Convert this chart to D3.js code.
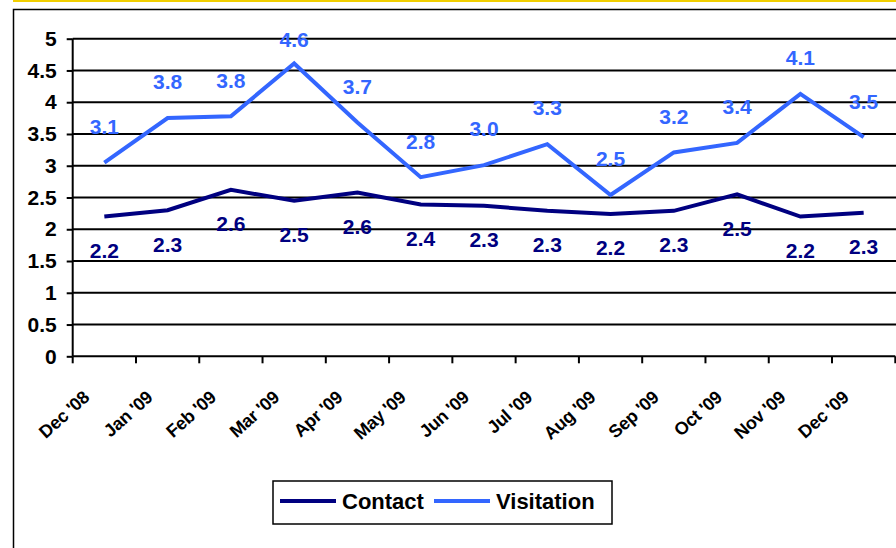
<!DOCTYPE html>
<html><head><meta charset="utf-8">
<script src="https://cdn.jsdelivr.net/npm/d3@7"></script>
<style>
html,body{margin:0;padding:0;background:#fff;}
svg{display:block;font-family:"Liberation Sans",Arial,sans-serif;font-weight:bold;}
</style></head>
<body>
<svg id="chart" width="896" height="548"></svg>
<script>
const categories = ["Dec '08","Jan '09","Feb '09","Mar '09","Apr '09","May '09","Jun '09","Jul '09","Aug '09","Sep '09","Oct '09","Nov '09","Dec '09"];
const contact = [2.20,2.30,2.62,2.45,2.58,2.39,2.37,2.29,2.24,2.29,2.55,2.20,2.26];
const visitation = [3.05,3.75,3.78,4.61,3.68,2.82,3.01,3.34,2.54,3.21,3.36,4.13,3.45];
const contactLabels = ["2.2","2.3","2.6","2.5","2.6","2.4","2.3","2.3","2.2","2.3","2.5","2.2","2.3"];
const visitationLabels = ["3.1","3.8","3.8","4.6","3.7","2.8","3.0","3.3","2.5","3.2","3.4","4.1","3.5"];
const yTicks = [0,0.5,1,1.5,2,2.5,3,3.5,4,4.5,5];
const yTickLabels = ["0","0.5","1","1.5","2","2.5","3","3.5","4","4.5","5"];
const seriesNames = ["Contact","Visitation"];
const seriesColors = ["#000080","#3366ff"];

const svg = d3.select("#chart");

// top yellow strip and chart border
svg.append("rect").attr("x",13).attr("y",0).attr("width",883).attr("height",2).attr("fill","#f2cf00");
svg.append("path").attr("d","M13.5,548 V9.5 H896").attr("fill","none").attr("stroke","#000").attr("stroke-width",1.5);

const x = d3.scaleBand().domain(categories).range([72.7,895.3]).padding(0);
const y = d3.scaleLinear().domain([0,5]).range([356.3,38.7]);
const cx = d => x(d) + x.bandwidth()/2;

// gridlines
svg.append("g").selectAll("line").data(yTicks.filter(v=>v>0)).join("line")
  .attr("x1",x.range()[0]).attr("x2",896).attr("y1",d=>y(d)).attr("y2",d=>y(d))
  .attr("stroke","#000").attr("stroke-width",2);

// y axis
const yAxis = d3.axisLeft(y).tickValues(yTicks).tickFormat((d,i)=>yTickLabels[i]).tickSize(6).tickPadding(10);
const gy = svg.append("g").attr("transform",`translate(${x.range()[0]},0)`).call(yAxis);
gy.select(".domain").attr("stroke","#000").attr("stroke-width",2).attr("d",`M0,${y(0)}V${y(5)}`);
gy.selectAll(".tick line").attr("stroke","#000").attr("stroke-width",2);
gy.selectAll(".tick text").attr("font-size",21).attr("font-weight","bold").attr("fill","#000")
  .attr("font-family","Liberation Sans, Arial, sans-serif");

// x axis: ticks at category boundaries
const gx = svg.append("g");
gx.append("line").attr("x1",x.range()[0]).attr("x2",x.range()[1]).attr("y1",y(0)).attr("y2",y(0))
  .attr("stroke","#000").attr("stroke-width",2);
const bounds = categories.map(c=>x(c)).concat([x.range()[1]]);
gx.selectAll("line.tk").data(bounds).join("line").attr("class","tk")
  .attr("x1",d=>d).attr("x2",d=>d).attr("y1",y(0)).attr("y2",y(0)+7)
  .attr("stroke","#000").attr("stroke-width",2);
gx.selectAll("text").data(categories).join("text")
  .attr("transform",d=>`translate(${cx(d)-18},${y(0)+38}) rotate(-42)`)
  .attr("text-anchor","end").attr("dy","0.35em")
  .attr("font-size",18).attr("letter-spacing","-0.3").attr("fill","#000").text(d=>d);

// lines
const line = d3.line().x((d,i)=>cx(categories[i])).y(d=>y(d));
[contact,visitation].forEach((s,k)=>{
  svg.append("path").datum(s).attr("d",line).attr("fill","none")
    .attr("stroke",seriesColors[k]).attr("stroke-width",4).attr("stroke-linejoin","miter");
});

// data labels
svg.append("g").selectAll("text").data(contact).join("text")
  .attr("x",(d,i)=>cx(categories[i])).attr("y",d=>y(d)+34).attr("dy","0.35em")
  .attr("text-anchor","middle").attr("font-size",21).attr("fill",seriesColors[0])
  .text((d,i)=>contactLabels[i]);
svg.append("g").selectAll("text").data(visitation).join("text")
  .attr("x",(d,i)=>cx(categories[i])).attr("y",d=>Math.max(y(d)-36,40)).attr("dy","0.35em")
  .attr("text-anchor","middle").attr("font-size",21).attr("fill",seriesColors[1])
  .text((d,i)=>visitationLabels[i]);

// legend
const lg = svg.append("g");
lg.append("rect").attr("x",273).attr("y",481).attr("width",339).attr("height",43)
  .attr("fill","#fff").attr("stroke","#000").attr("stroke-width",1.5);
const legX = [280,434];
seriesNames.forEach((n,k)=>{
  lg.append("line").attr("x1",legX[k]).attr("x2",legX[k]+56).attr("y1",501).attr("y2",501)
    .attr("stroke",seriesColors[k]).attr("stroke-width",4);
  lg.append("text").attr("x",legX[k]+62).attr("y",501).attr("dy","0.35em")
    .attr("font-size",22).attr("fill","#000").text(n);
});
</script>
</body></html>
